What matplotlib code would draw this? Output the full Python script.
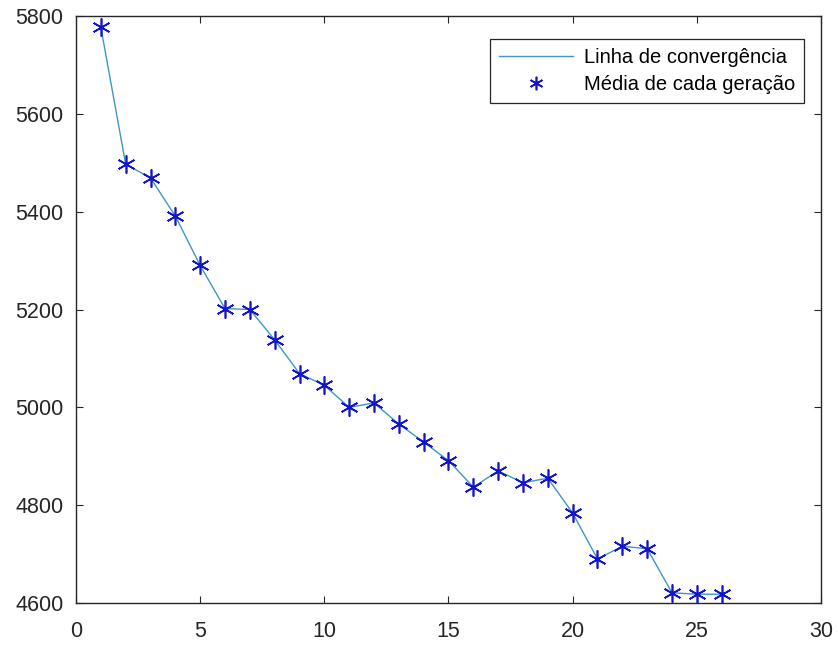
import matplotlib
matplotlib.use("Agg")
import matplotlib.pyplot as plt

plt.rcParams['font.family'] = ['Liberation Sans', 'DejaVu Sans']

geracao = list(range(1, 27))
media = [5777, 5497, 5469, 5391, 5290, 5202, 5200, 5138, 5069, 5045,
         5000, 5009, 4966, 4929, 4891, 4837, 4870, 4846, 4855, 4784,
         4690, 4716, 4711, 4621, 4618, 4618]

x_ticks = [0, 5, 10, 15, 20, 25, 30]
y_ticks = [4600, 4800, 5000, 5200, 5400, 5600, 5800]

fig = plt.figure(figsize=(8.38, 6.48), dpi=100)
ax = fig.add_axes([0.0907, 0.0694, 0.8890, 0.9059])

ax.plot(geracao, media, '-', color='#3d97c4', linewidth=1.0,
        label='Linha de convergência')
ax.plot(geracao, media, linestyle='none', marker=(6, 2, 0),
        markersize=13, markeredgewidth=1.2, color='#1414c8',
        label='Média de cada geração')

ax.set_xlim(0, 30)
ax.set_ylim(4600, 5800)
ax.set_xticks(x_ticks)
ax.set_yticks(y_ticks)

axis_color = '#262626'
for sp in ax.spines.values():
    sp.set_color(axis_color)
    sp.set_linewidth(1.0)
ax.tick_params(direction='in', length=5, width=0.8, colors=axis_color,
               labelsize=15.5, top=True, right=True)
ax.tick_params(axis='x', pad=13)
ax.tick_params(axis='y', pad=9)

leg = ax.legend(loc='upper right', bbox_to_anchor=(0.977, 0.961),
                fontsize=14.5, fancybox=False, framealpha=1,
                edgecolor=axis_color, borderpad=0.45, handlelength=3.7,
                labelspacing=0.38, handletextpad=0.5, borderaxespad=0,
                markerscale=0.75)
leg.get_frame().set_linewidth(0.9)

fig.savefig('out.png', dpi=100)
